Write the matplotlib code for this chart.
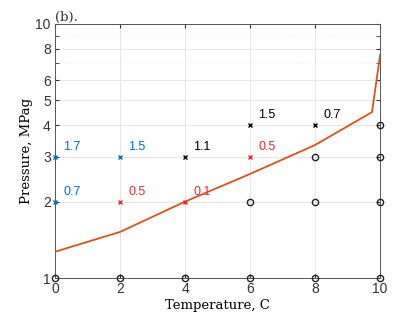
import matplotlib
matplotlib.use('Agg')
import matplotlib.pyplot as plt
from matplotlib.ticker import FixedLocator, NullFormatter

# hydrate curve
curve_t = [0, 2, 4, 6, 8, 9.75, 10]
curve_p = [1.27, 1.52, 2.0, 2.57, 3.34, 4.5, 7.55]

# crosses with labels
blue_t = [0, 0, 2]
blue_p = [3, 2, 3]
blue_lab = ['1.7', '0.7', '1.5']
red_t = [2, 4, 6]
red_p = [2, 2, 3]
red_lab = ['0.5', '0.1', '0.5']
black_t = [4, 6, 8]
black_p = [3, 4, 4]
black_lab = ['1.1', '1.5', '0.7']

# circles
circ_t = [0, 2, 4, 6, 8, 10, 6, 8, 10, 8, 10, 10]
circ_p = [1, 1, 1, 1, 1, 1, 2, 2, 2, 3, 3, 4]

yticks = [1, 2, 3, 4, 5, 6, 8, 10]
yminor = [7, 9]

fig = plt.figure(figsize=(4.2, 3.15), dpi=100)
ax = fig.add_axes([0.131, 0.117, 0.774, 0.807])
ax.set_yscale('log')
ax.set_xlim(0, 10)
ax.set_ylim(1, 10)

ax.plot(curve_t, curve_p, color='#D95319', lw=1.3, zorder=3)

blue = '#0072BD'
red = '#F0262E'
for ts, ps, labs, c in [(blue_t, blue_p, blue_lab, blue), (red_t, red_p, red_lab, red),
                        (black_t, black_p, black_lab, 'black')]:
    ax.plot(ts, ps, 'x', color=c, ms=3.5, mew=1, clip_on=False, zorder=4)
    for t, p, s in zip(ts, ps, labs):
        ax.annotate(s, (t, p), xytext=(6, 5), textcoords='offset points',
                    color=c, fontsize=9, family='Liberation Sans')

ax.plot(circ_t, circ_p, 'o', mfc='none', mec='#222222', ms=4.5, mew=1, clip_on=False, zorder=4)

ax.set_xticks([0, 2, 4, 6, 8, 10])
ax.yaxis.set_major_locator(FixedLocator(yticks))
ax.yaxis.set_minor_locator(FixedLocator(yminor))
ax.yaxis.set_minor_formatter(NullFormatter())
ax.set_yticklabels([str(v) for v in yticks])
ax.grid(True, which='major', color='#e6e6e6', lw=0.7)
ax.grid(True, which='minor', color='#eeeeee', lw=0.6, ls=':')
ax.set_axisbelow(True)
ax.tick_params(which='both', direction='in', top=True, right=True, length=3,
               labelsize=10, colors='#333333', pad=3)
for lab in ax.get_xticklabels() + ax.get_yticklabels():
    lab.set_family('Liberation Sans')
for sp in ax.spines.values():
    sp.set_color('#555555')
    sp.set_linewidth(0.7)

ax.set_xlabel('Temperature, C', family='DejaVu Serif', fontsize=9.5, labelpad=2)
ax.set_ylabel('Pressure, MPag', family='DejaVu Serif', fontsize=9.5, labelpad=2)
ax.set_title('(b).', loc='left', family='DejaVu Serif', fontsize=9.5, pad=2, color='#333333')

fig.savefig('out.png', dpi=100)
